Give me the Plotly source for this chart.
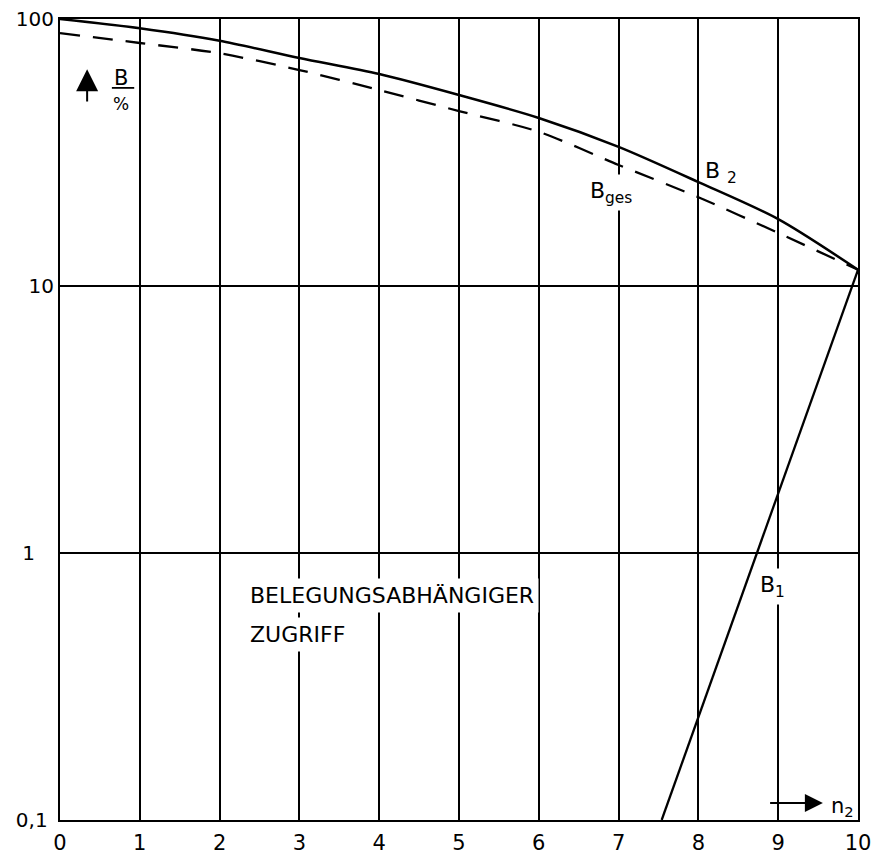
import plotly.graph_objects as go

# Occupancy B (%) over n2
n2 = list(range(11))
b2 = [100, 92.3, 82.9, 71.4, 62.2, 51.9, 42.6, 33.2, 24.5, 17.8, 11.5]
b_ges = [88.6, 81.3, 74.4, 64.4, 54.2, 45.2, 37.8, 28.4, 21.5, 15.8, 11.5]
n2_b1 = [7.54, 8, 9, 10]
b1 = [0.1, 0.243, 1.67, 11.5]

x_ticks = list(range(11))
x_ticktext = [str(v) for v in x_ticks]
y_ticks = [0.1, 1, 10, 100]
y_ticktext = ["0,1\u00a0", "1\u00a0\u00a0\u00a0", "10", "100"]

FONT = "DejaVu Sans"
INK = "black"

fig = go.Figure()
fig.add_trace(go.Scatter(x=n2, y=b2, mode="lines", name="B2",
                         line=dict(color=INK, width=2.5, shape="spline", smoothing=0.8)))
fig.add_trace(go.Scatter(x=n2, y=b_ges, mode="lines", name="Bges",
                         line=dict(color=INK, width=2.3, dash="20px,13px",
                                   shape="spline", smoothing=0.8)))
fig.add_trace(go.Scatter(x=n2_b1, y=b1, mode="lines", name="B1",
                         line=dict(color=INK, width=2.3)))

ann = []
# axis caption B / %
ann.append(dict(x=0.76, y=1.779, text="B", showarrow=False,
                font=dict(size=21, family=FONT, color=INK)))
ann.append(dict(x=0.76, y=1.682, text="%", showarrow=False,
                font=dict(size=17, family=FONT, color=INK)))
ann.append(dict(x=0.34, y=1.812, ax=0.34, ay=1.685, axref="x", ayref="y",
                text="", showarrow=True, arrowhead=2, arrowsize=2.2,
                arrowwidth=2, arrowcolor=INK))
# curve labels
ann.append(dict(x=8.28, y=1.425, text="B <sub>2</sub>", showarrow=False,
                font=dict(size=22, family=FONT, color=INK)))
ann.append(dict(x=6.9, y=1.35, text="B<sub>ges</sub>", showarrow=False,
                bgcolor="white", borderpad=3,
                font=dict(size=22, family=FONT, color=INK)))
ann.append(dict(x=8.93, y=-0.125, text="B<sub>1</sub>", showarrow=False,
                bgcolor="white", borderpad=3,
                font=dict(size=22, family=FONT, color=INK)))
# region caption
ann.append(dict(x=2.32, y=-0.16, text="BELEGUNGSABHÄNGIGER", showarrow=False,
                xanchor="left", bgcolor="white", borderpad=4,
                font=dict(size=22, family=FONT, color=INK)))
ann.append(dict(x=2.32, y=-0.305, text="ZUGRIFF", showarrow=False,
                xanchor="left", bgcolor="white", borderpad=4,
                font=dict(size=22, family=FONT, color=INK)))
# n2 direction arrow
ann.append(dict(x=9.56, y=-0.936, ax=8.88, ay=-0.936, axref="x", ayref="y",
                text="", showarrow=True, arrowhead=2, arrowsize=1.8,
                arrowwidth=2, arrowcolor=INK))
ann.append(dict(x=9.64, y=-0.95, text="n<sub>2</sub>", showarrow=False,
                xanchor="left", font=dict(size=21, family=FONT, color=INK)))

fig.update_layout(
    width=876, height=857,
    margin=dict(l=60, r=18, t=19, b=37),
    paper_bgcolor="white", plot_bgcolor="white",
    showlegend=False,
    annotations=ann,
    shapes=[dict(type="line", xref="x", yref="paper", x0=0.65, x1=0.93,
                 y0=0.914, y1=0.914, line=dict(color=INK, width=1.8))],
    font=dict(family=FONT, color=INK),
)
fig.update_xaxes(range=[0, 10], tickvals=x_ticks, ticktext=x_ticktext,
                 automargin=False,
                 showgrid=True, gridcolor=INK, gridwidth=1.5,
                 showline=True, linecolor=INK, linewidth=2, mirror=True,
                 ticks="", ticklabelstandoff=3, zeroline=False,
                 tickfont=dict(size=21, family=FONT, color=INK))
fig.update_yaxes(type="log", range=[-1, 2], tickvals=y_ticks, ticktext=y_ticktext,
                 automargin=False,
                 showgrid=True, gridcolor=INK, gridwidth=1.5,
                 showline=True, linecolor=INK, linewidth=2, mirror=True,
                 ticks="", ticklabelstandoff=0, zeroline=False,
                 tickfont=dict(size=20, family=FONT, color=INK))

fig.write_html("out.html")
